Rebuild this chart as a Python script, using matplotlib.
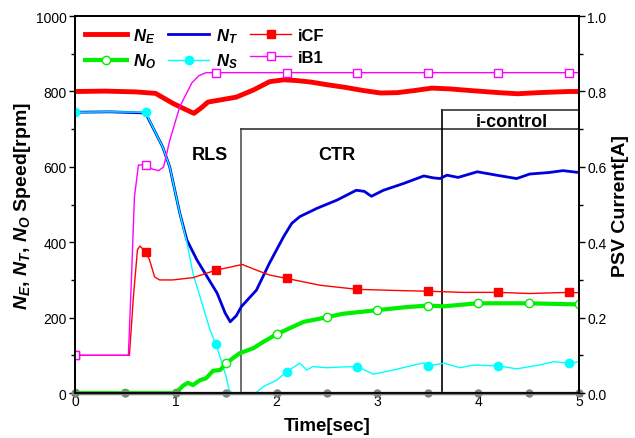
import numpy as np
import matplotlib
matplotlib.use("Agg")
import matplotlib.pyplot as plt

plt.rcParams['font.family'] = ['Liberation Sans', 'DejaVu Sans']
plt.rcParams['mathtext.fontset'] = 'custom'
plt.rcParams['mathtext.it'] = 'Liberation Sans:italic:bold'
plt.rcParams['mathtext.rm'] = 'Liberation Sans:bold'
plt.rcParams['mathtext.bf'] = 'Liberation Sans:bold'

# engine speed N_E [rpm]
t_ne = [0, 0.3, 0.6, 0.8, 0.975, 1.1, 1.18, 1.25, 1.32, 1.45, 1.6, 1.77, 1.93,
        2.07, 2.2, 2.34, 2.5, 2.68, 2.85, 3.03, 3.2, 3.38, 3.54, 3.71, 3.9,
        4.05, 4.2, 4.39, 4.6, 4.9, 5.0]
ne = [800, 801, 799, 795, 768, 752, 742, 756, 772, 778, 785, 804, 826,
      831, 829, 825, 818, 811, 803, 796, 797, 803, 809, 807, 803,
      800, 797, 794, 797, 800, 800]

# turbine speed N_T [rpm]
t_nt = [0, 0.35, 0.7, 0.8, 0.87, 0.94, 1.04, 1.11, 1.21, 1.31, 1.41, 1.49,
        1.54, 1.6, 1.65, 1.8, 1.93, 2.07, 2.15, 2.23, 2.4, 2.6, 2.79, 2.87,
        2.94, 3.06, 3.26, 3.46, 3.55, 3.62, 3.69, 3.8, 3.99, 4.18, 4.38,
        4.51, 4.7, 4.84, 5.0]
nt = [745, 746, 743, 690, 653, 600, 477, 406, 353, 309, 265, 212,
      189, 205, 229, 273, 345, 415, 450, 468, 490, 512, 538, 535,
      522, 538, 556, 576, 571, 569, 578, 572, 587, 578, 569,
      581, 585, 590, 585]

# N_S [rpm]
t_ns = [0, 0.35, 0.7, 0.8, 0.87, 0.94, 1.04, 1.11, 1.17, 1.27, 1.34, 1.4,
        1.5, 1.53, 1.56, 1.79, 1.87, 2.0, 2.1, 2.23, 2.3, 2.36, 2.49, 2.65,
        2.8, 2.96, 3.16, 3.36, 3.46, 3.5, 3.66, 3.82, 3.95, 4.2, 4.38, 4.6,
        4.75, 4.9, 5.0]
ns = [745, 746, 745, 690, 653, 600, 477, 400, 318, 229, 167, 129,
      43, 8, 0, 0, 17, 34, 56, 79, 61, 70, 67, 69,
      70, 50, 61, 74, 80, 72, 79, 67, 74, 72, 64, 74,
      83, 79, 83]

# output speed N_O [rpm]
t_no = [0, 0.5, 1.0, 1.07, 1.12, 1.17, 1.24, 1.3, 1.37, 1.44, 1.5, 1.63,
        1.77, 1.87, 2.0, 2.27, 2.5, 2.65, 3.0, 3.29, 3.5, 3.66, 3.95, 4.0,
        4.5, 5.0]
no = [0, 0, 0, 19, 27, 21, 34, 39, 59, 61, 79, 105,
      119, 136, 156, 189, 201, 210, 220, 228, 232, 230, 237, 238,
      238, 235]

# reference line at zero
t_zero = [0, 0.5, 1.0, 1.5, 2.0, 2.5, 3.0, 3.5, 4.0, 4.5, 5.0]
zero = [0] * len(t_zero)

# solenoid valve currents [A]
t_icf = [0, 0.54, 0.58, 0.62, 0.645, 0.7, 0.74, 0.79, 0.84, 0.97, 1.17,
         1.4, 1.66, 1.8, 1.93, 2.1, 2.43, 2.8, 3.19, 3.5, 3.85, 4.2, 4.51,
         4.9, 5.0]
icf = [0.1, 0.1, 0.255, 0.38, 0.39, 0.375, 0.353, 0.308, 0.30, 0.30, 0.306,
       0.326, 0.341, 0.326, 0.313, 0.304, 0.286, 0.275, 0.272, 0.27, 0.267,
       0.267, 0.264, 0.267, 0.266]

t_ib1 = [0, 0.53, 0.56, 0.59, 0.63, 0.7, 0.77, 0.83, 0.88, 0.94, 1.04,
         1.16, 1.23, 1.3, 1.4, 2.1, 2.8, 3.5, 4.2, 4.9, 5.0]
ib1 = [0.1, 0.1, 0.30, 0.52, 0.605, 0.605, 0.594, 0.59, 0.60, 0.67, 0.76,
       0.823, 0.842, 0.85, 0.85, 0.85, 0.85, 0.85, 0.85, 0.85, 0.85]


def marks(t, every):
    """Indices of samples that fall on the marker grid."""
    t = np.asarray(t)
    grid = np.round(np.arange(0, 5.0001, every), 2)
    return list(np.where(np.isin(np.round(t, 2), grid))[0])


fig = plt.figure(figsize=(6.35, 4.39), dpi=100)
ax = fig.add_axes([0.118, 0.1025, 0.794, 0.8585])
ax2 = ax.twinx()

# phase boxes
box_kw = dict(color='#333333', lw=1.2, zorder=1)
ax.plot([1.65, 1.65], [0, 700], color='#555555', lw=1.2, zorder=1)
ax.plot([1.65, 5.0], [700, 700], **box_kw)
ax.plot([3.64, 3.64], [0, 750], color='black', lw=1.2, zorder=1)
ax.plot([3.64, 5.0], [750, 750], **box_kw)
ax.text(1.34, 632, 'RLS', fontsize=13, fontweight='bold', ha='center', va='center')
ax.text(2.6, 632, 'CTR', fontsize=13, fontweight='bold', ha='center', va='center')
ax.text(4.33, 721, 'i-control', fontsize=13, fontweight='bold', ha='center', va='center')

l_ne, = ax.plot(t_ne, ne, color='red', lw=3.5, zorder=4, label='$N_E$')
l_nt, = ax.plot(t_nt, nt, color='#0000dd', lw=2, zorder=3, label='$N_T$')
l_ns, = ax.plot(t_ns, ns, color='cyan', lw=1, marker='o', ms=6,
                markevery=marks(t_ns, 0.7), zorder=3, label='$N_S$')
l_no, = ax.plot(t_no, no, color='#00ee00', lw=3, marker='o', ms=6, mfc='white',
                mec='#00ee00', mew=1, markevery=marks(t_no, 0.5), zorder=3,
                label='$N_O$')
ax.plot(t_zero, zero, color='#808080', lw=2.5, marker='o', ms=5, zorder=3.5,
        clip_on=False)

l_icf, = ax2.plot(t_icf, icf, color='red', lw=1, marker='s', ms=6,
                  markevery=marks(t_icf, 0.7), label='iCF')
l_ib1, = ax2.plot(t_ib1, ib1, color='magenta', lw=1, marker='s', ms=6,
                  mfc='white', mec='magenta', markevery=marks(t_ib1, 0.7),
                  label='iB1')

ax.set_xlim(0, 5)
ax.set_ylim(0, 1000)
ax2.set_ylim(0, 1.0)
ax.set_xticks(range(6))
ax.set_yticks(range(0, 1001, 200))
ax.set_yticks(range(100, 1000, 200), minor=True)
ax2.set_yticks(np.arange(0, 1.01, 0.2))
ax2.set_yticks(np.arange(0.1, 1.0, 0.2), minor=True)
ax2.set_yticklabels(['%.1f' % v for v in np.arange(0, 1.01, 0.2)])

for a in (ax, ax2):
    a.tick_params(labelsize=10, length=4, width=1, pad=2)
    a.tick_params(which='minor', length=3, width=1)
    for s in a.spines.values():
        s.set_linewidth(1.3)
ax.tick_params(axis='x', length=0, pad=1)

ax.set_xlabel('Time[sec]', fontsize=13.5, fontweight='bold', labelpad=6)
ax.set_ylabel('$N_E$, $N_T$, $N_O$ Speed[rpm]', fontsize=14, fontweight='bold',
              labelpad=2)
ax2.set_ylabel('PSV Current[A]', fontsize=14, fontweight='bold', labelpad=4)

ax2.legend([l_ne, l_no, l_nt, l_ns, l_icf, l_ib1],
           ['$N_E$', '$N_O$', '$N_T$', '$N_S$', 'iCF', 'iB1'],
           loc='upper left', ncol=3, frameon=False,
           handlelength=2.5, handletextpad=0.4, columnspacing=0.7,
           labelspacing=0.4, borderaxespad=0.2, prop={'weight': 'bold', 'size': 12})

fig.savefig('out.png', dpi=100)
